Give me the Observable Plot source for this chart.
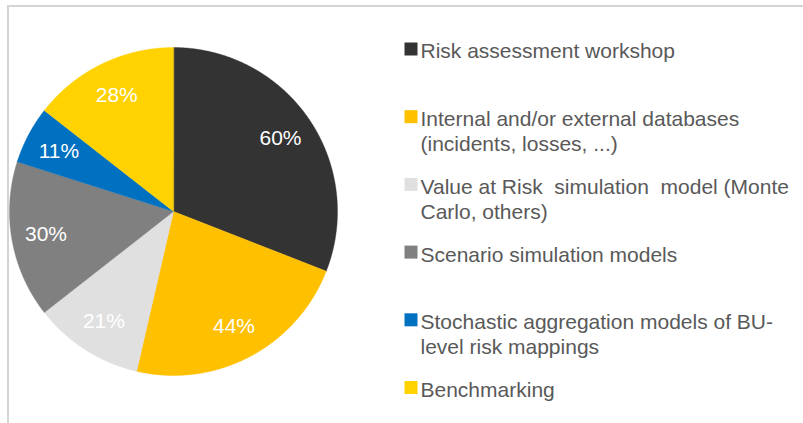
<!DOCTYPE html>
<html><head><meta charset="utf-8">
<script src="https://cdn.jsdelivr.net/npm/d3@7"></script>
<script src="https://cdn.jsdelivr.net/npm/@observablehq/plot@0.6"></script>
<style>
body{margin:0;background:#fff;font-family:"Liberation Sans",Arial,sans-serif;}
#wrap{position:relative;width:803px;height:423px;overflow:hidden;background:#fff;}
#border{position:absolute;left:7px;top:5px;width:830px;height:450px;border-top:2px solid #d4d4d4;border-left:2px solid #d4d4d4;}
#chart{position:absolute;left:0;top:0;}
#chart text{white-space:pre;}
</style></head><body>
<div id="wrap"><div id="border"></div><div id="chart"></div></div>
<script>
const categories = ["Risk assessment workshop", "Internal and/or external databases", "Value at Risk simulation model", "Scenario simulation models", "Stochastic aggregation models", "Benchmarking"];
const legendLines = ["Risk assessment workshop", "Internal and/or external databases\n(incidents, losses, ...)", "Value at Risk  simulation  model (Monte\nCarlo, others)", "Scenario simulation models", "Stochastic aggregation models of BU-\nlevel risk mappings", "Benchmarking"];
const values = [60, 44, 21, 30, 11, 28];
const labels = ["60%", "44%", "21%", "30%", "11%", "28%"];
const colors = ["#333333", "#FFC000", "#E0E0E0", "#808080", "#0070C0", "#FFD200"];

// layout
const W = 803, H = 423;
const cx = 173, cy = 211, R = 164, labelR = 0.79 * R;
const legSqX = 410.5, legTop = 42, legStep = 67.7, legSq = 13, legTextX = 420;

const data = categories.map((c, i) => ({cat: c, value: values[i], label: labels[i], legend: legendLines[i], i}));
const arcs = d3.pie().sort(null).value(d => d.value)(data);

const polys = arcs.flatMap(p => {
  const n = Math.max(2, Math.ceil((p.endAngle - p.startAngle) / 0.004));
  const pts = [{cat: p.data.cat, x: cx, y: cy}];
  for (let j = 0; j <= n; j++) {
    const a = p.startAngle + (p.endAngle - p.startAngle) * j / n;
    pts.push({cat: p.data.cat, x: cx + R * Math.sin(a), y: cy - R * Math.cos(a)});
  }
  return pts;
});
const centroids = arcs.map(p => {
  const a = (p.startAngle + p.endAngle) / 2;
  return {label: p.data.label, x: cx + labelR * Math.sin(a), y: cy - labelR * Math.cos(a)};
});

const font = "Liberation Sans, Arial, sans-serif";
const chart = Plot.plot({
  width: W, height: H, margin: 0,
  style: {fontFamily: font, background: "transparent"},
  x: {domain: [0, W], range: [0, W], axis: null},
  y: {domain: [0, H], range: [0, H], axis: null},
  color: {domain: categories, range: colors},
  marks: [
    Plot.line(polys, {x: "x", y: "y", z: "cat", fill: "cat", stroke: "cat", strokeWidth: 0.4, curve: "linear-closed"}),
    Plot.text(centroids, {x: "x", y: "y", text: "label", fill: "white", fontSize: 21, fontFamily: font}),
    Plot.dot(data, {x: () => legSqX, y: d => legTop + legSq / 2 + d.i * legStep, symbol: "square", r: legSq / Math.sqrt(Math.PI), fill: "cat"}),
    Plot.text(data, {x: () => legTextX, y: d => legTop - 1.8 + d.i * legStep, text: "legend", textAnchor: "start", lineAnchor: "top", lineHeight: 1.19, fontSize: 21, fill: "#595959", fontFamily: font})
  ]
});
document.getElementById("chart").appendChild(chart);
</script>
</body></html>
